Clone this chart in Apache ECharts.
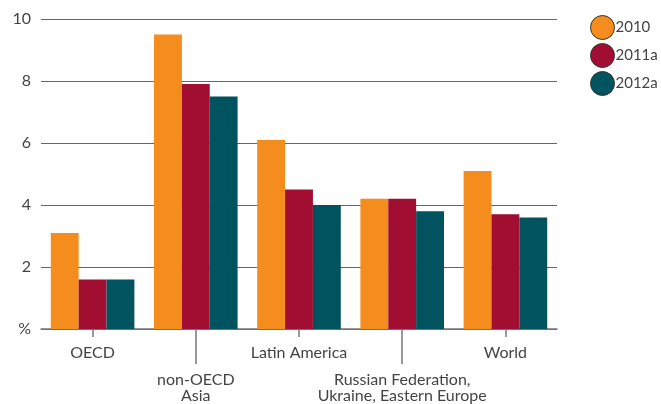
<!DOCTYPE html>
<html>
<head>
<meta charset="utf-8">
<script src="https://cdn.jsdelivr.net/npm/echarts@6/dist/echarts.min.js"></script>
<style>
  html, body { margin: 0; padding: 0; background: #fff; }
  #chart { width: 661px; height: 404px; }
</style>
</head>
<body>
<div id="chart"></div>
<script>
// Regions (odd-indexed labels sit on a second, lower row)
const categories = ['OECD', 'non-OECD\nAsia', 'Latin America', 'Russian Federation,\nUkraine, Eastern Europe', 'World'];
const seriesNames = ['2010', '2011a', '2012a'];
const values2010 = [3.1, 9.5, 6.1, 4.2, 5.1];
const values2011 = [1.6, 7.9, 4.5, 4.2, 3.7];
const values2012 = [1.6, 7.5, 4.0, 3.8, 3.6];
const yTicks = [0, 2, 4, 6, 8, 10];

const colors = ['#F58C1E', '#A20E32', '#00535F'];
const font = 'Lato, "Open Sans", sans-serif';

const chart = echarts.init(document.getElementById('chart'));

const xBase = {
  type: 'category',
  data: categories,
  position: 'bottom',
  boundaryGap: true
};

chart.setOption({
  animation: false,
  color: colors,
  grid: { left: 41, right: 104, top: 19, bottom: 72 },
  legend: {
    orient: 'vertical',
    left: 585,
    top: 10,
    itemWidth: 24,
    itemHeight: 24,
    itemGap: 3,
    icon: 'circle',
    data: seriesNames,
    textStyle: { fontFamily: font, fontSize: 15, color: '#444', padding: [0, 0, 0, -4] },
    itemStyle: { borderColor: '#333', borderWidth: 1 }
  },
  xAxis: [
    Object.assign({}, xBase, {
      axisLine: { show: true, lineStyle: { color: '#777', width: 1.5 } },
      axisTick: { show: true, alignWithLabel: true, length: 8, lineStyle: { color: '#777', width: 1.5 },
        interval: (i) => i % 2 === 0 },
      axisLabel: {
        interval: 0,
        fontFamily: font, fontSize: 16, color: '#444', lineHeight: 16, margin: 16,
        formatter: (v, i) => {
          const lines = v.split('\n').map((s) => '{t|' + s + '}');
          return i % 2 === 1 ? '{gap|}\n' + lines.join('\n') : lines.join('\n');
        },
        rich: {
          t: { fontFamily: font, fontSize: 16, color: '#444', lineHeight: 16 },
          gap: { lineHeight: 27, height: 27 }
        }
      }
    }),
    Object.assign({}, xBase, {
      axisLine: { show: false },
      axisTick: { show: true, alignWithLabel: true, length: 35, lineStyle: { color: '#777', width: 1.5 },
        interval: (i) => i % 2 === 1 },
      axisLabel: { show: false }
    })
  ],
  yAxis: {
    type: 'value',
    min: yTicks[0],
    max: yTicks[yTicks.length - 1],
    interval: 2,
    axisLine: { show: false },
    axisTick: { show: false },
    splitLine: { show: true, lineStyle: { color: '#666', width: 1.2 } },
    axisLabel: {
      fontFamily: font, fontSize: 16, color: '#444', margin: 10,
      formatter: (v) => (v === 0 ? '%' : String(v))
    }
  },
  series: [
    { name: seriesNames[0], type: 'bar', data: values2010, barGap: '0%', barCategoryGap: '19%' },
    { name: seriesNames[1], type: 'bar', data: values2011, barGap: '0%', barCategoryGap: '19%' },
    { name: seriesNames[2], type: 'bar', data: values2012, barGap: '0%', barCategoryGap: '19%' }
  ]
});
</script>
</body>
</html>
